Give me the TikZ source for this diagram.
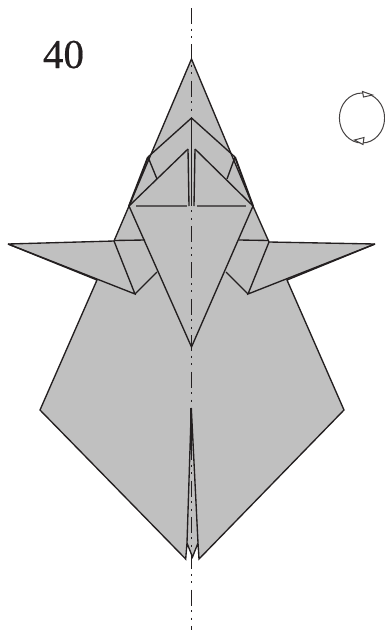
\documentclass[tikz,border=0pt]{standalone}
\usepackage{fontspec}
\setmainfont{Liberation Serif}
\newfontfamily\numfont[FakeBold=0.5]{Liberation Serif}
\definecolor{ink}{HTML}{231F20}
\definecolor{paper}{HTML}{C0C0C0}
\tikzset{
  fold/.style={draw=ink,line width=1.35pt,line join=miter,miter limit=3},
  heavy/.style={draw=ink,line width=1.9pt},
  light/.style={draw=ink!75,line width=1.1pt},
  axisline/.style={draw=ink,line width=1.2pt,dash pattern=on 16pt off 4.5pt on 2pt off 5.5pt on 2pt off 6.35pt},
  turn/.style={draw=ink!85,line width=1pt},
  turnhead/.style={draw=ink!85,line width=1pt,fill=white}
}
\begin{document}
\begin{tikzpicture}[x=1pt,y=-1pt]
\useasboundingbox (0,0) rectangle (385,630);
% silhouette
\path[fold,fill=paper] (191.5,59) -- (253,206) -- (269,242) -- (375,244) -- (287,280) -- (344,410) -- (199,559)
  -- (198,543) -- (192.5,557) -- (187,543) -- (185.7,559) -- (40,410) -- (97,280) -- (8,244) -- (114,241) -- (129,206) -- cycle;
% wings
\draw[fold] (114,241) -- (135,294) -- (8,244);
\draw[fold] (269,242) -- (248,294) -- (375,244);
\draw[fold] (135,294) -- (157,272);
\draw[fold] (248,294) -- (226,272);
\draw[fold] (114,240.5) -- (145,240);
\draw[fold] (239,240) -- (269,240.5);
% kite
\draw[fold] (188,149) -- (129,206) -- (191.5,347) -- (253,206) -- (195,149);
% upper flaps
\draw[fold] (148,157) -- (191.5,118) -- (235,157);
\draw[fold] (148,157) -- (157,179);
\draw[fold] (235,157) -- (227,179);
\draw[heavy] (148,157) -- (129,206);
\draw[heavy] (235,157) -- (253,206);
% centre
\draw[heavy] (191.5,118) -- (191.5,206);
\draw[fold] (188,149) -- (189,206);
\draw[fold] (195,149) -- (194,206);
\draw[light] (136,206) -- (187,206);
\draw[light] (197,206) -- (246,206);
% slit
\draw[fold] (191.3,408) -- (187,543);
\draw[fold] (191.3,408) -- (198,543);
\draw[heavy] (191.3,408) -- (191.3,450);
% axis
\draw[axisline] (191.5,8) -- (191.5,630);
% number
\node[font=\numfont\fontsize{41}{41}\selectfont,anchor=base,inner sep=0pt,text=ink] (num) at (63.5,68) {40};
% turn-over symbol
\draw[turn] (362,118) ellipse [x radius=22.6,y radius=25];
\path[turnhead] (362.5,91.5) -- (372.5,95) -- (363.5,97) -- cycle;
\path[turnhead] (354.5,140) -- (364,137.5) -- (363,144.5) -- cycle;
\end{tikzpicture}
\end{document}
